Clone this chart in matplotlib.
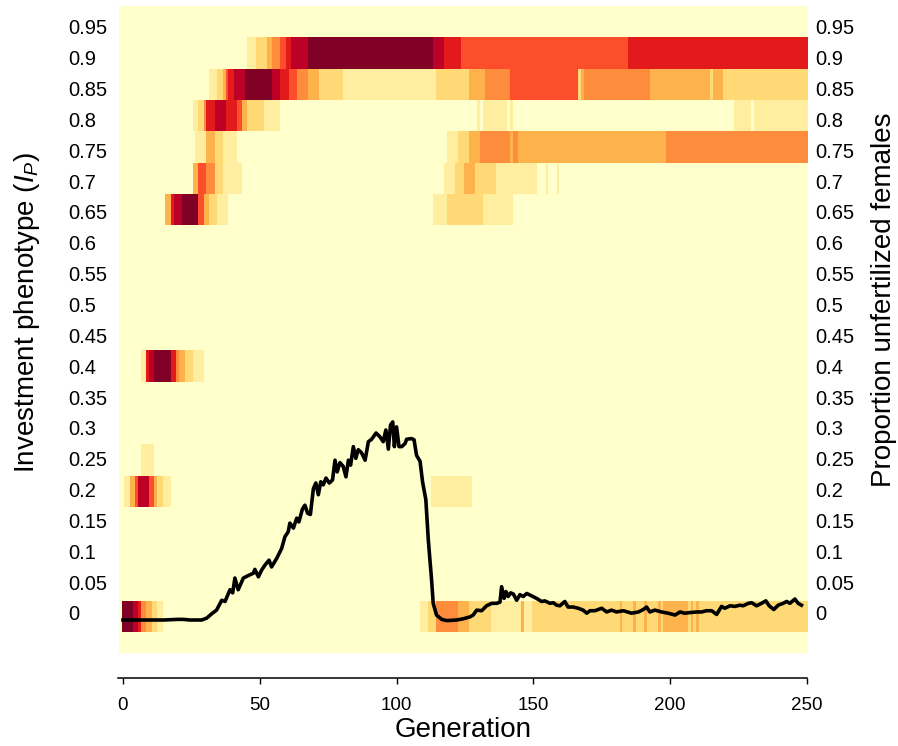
import numpy as np
import matplotlib.pyplot as plt
from matplotlib.colors import ListedColormap, BoundaryNorm
from matplotlib.transforms import ScaledTranslation

plt.rcParams['font.family'] = ['Liberation Sans', 'DejaVu Sans']
plt.rcParams['mathtext.fontset'] = 'custom'
plt.rcParams['mathtext.rm'] = 'Liberation Sans'
plt.rcParams['mathtext.it'] = 'Liberation Sans:italic'

# generations and phenotype classes
generations = np.arange(0, 251)
phenotypes = np.round(np.arange(0, 1.0, 0.05), 2)

# frequency class (0 = absent ... 8 = most common) as (first gen, last gen + 1, class)
row_000 = [(0, 4, 8), (4, 6, 7), (6, 7, 6), (7, 9, 4), (9, 11, 3), (11, 13, 2), (13, 15, 1),
           (109, 112, 1), (112, 115, 2), (115, 123, 4), (123, 127, 3), (127, 135, 2),
           (135, 146, 1), (146, 147, 3), (147, 150, 1), (150, 251, 2),
           (182, 183, 3), (187, 188, 3), (191, 192, 3), (196, 197, 3), (198, 207, 3),
           (208, 209, 3), (210, 211, 3)]
row_020 = [(1, 3, 1), (3, 5, 3), (5, 6, 5), (6, 10, 7), (10, 12, 5), (12, 13, 3), (13, 15, 2),
           (15, 18, 1), (113, 128, 1)]
row_025 = [(7, 12, 1)]
row_040 = [(7, 9, 1), (9, 10, 6), (10, 12, 7), (12, 18, 8), (18, 20, 6), (20, 21, 4), (21, 23, 3),
           (23, 26, 2), (26, 30, 1)]
row_065 = [(16, 18, 3), (18, 19, 6), (19, 22, 7), (22, 28, 8), (28, 30, 5), (30, 32, 3), (32, 35, 2),
           (35, 39, 1), (114, 119, 1), (119, 132, 2), (132, 143, 1)]
row_070 = [(26, 28, 3), (28, 31, 5), (31, 34, 4), (34, 37, 2), (37, 44, 1), (118, 122, 1),
           (122, 125, 2), (125, 129, 3), (129, 137, 2), (137, 152, 1), (155, 156, 1), (159, 160, 1)]
row_075 = [(27, 31, 1), (31, 34, 3), (34, 37, 2), (37, 42, 1), (119, 123, 1), (123, 127, 2),
           (127, 131, 3), (131, 142, 4), (142, 143, 3), (143, 145, 4), (145, 199, 3), (199, 251, 4)]
row_080 = [(26, 28, 1), (28, 30, 2), (30, 31, 4), (31, 34, 6), (34, 38, 7), (38, 42, 6), (42, 44, 5),
           (44, 46, 3), (46, 52, 2), (52, 58, 1), (130, 131, 1), (132, 141, 1), (142, 143, 1),
           (224, 230, 1), (231, 251, 1)]
row_085 = [(32, 35, 1), (35, 37, 2), (37, 38, 3), (38, 39, 5), (39, 41, 6), (41, 45, 7), (45, 55, 8),
           (55, 58, 7), (58, 61, 6), (61, 64, 5), (64, 68, 4), (68, 72, 3), (72, 81, 2), (81, 115, 1),
           (115, 127, 2), (127, 133, 3), (133, 142, 4), (142, 167, 5), (167, 168, 2), (168, 169, 3),
           (169, 193, 4), (193, 215, 3), (215, 216, 2), (216, 220, 3), (220, 251, 2)]
row_090 = [(46, 49, 1), (49, 53, 2), (53, 55, 3), (55, 58, 4), (58, 60, 5), (60, 62, 6), (62, 68, 7),
           (68, 114, 8), (114, 118, 7), (118, 124, 6), (124, 185, 5), (185, 251, 6)]

rows = {0.0: row_000, 0.2: row_020, 0.25: row_025, 0.4: row_040, 0.65: row_065,
        0.7: row_070, 0.75: row_075, 0.8: row_080, 0.85: row_085, 0.9: row_090}

# proportion of unfertilized females
line_gen = [0, 5, 10, 15, 20, 22, 24.5, 28.8, 30.6, 32.4, 34.2, 36.1, 37.3, 39.1, 40.1, 40.9, 42.1,
            44, 45.8, 47.7, 48.2, 49.5, 50.7, 51.9, 53.4, 54.3, 56.2, 58, 59.2, 60.4, 61, 62.3, 63.5,
            64.3, 65.6, 66.5, 67.5, 68.5, 69.6, 70.5, 71.4, 72.3, 73.2, 74.2, 75.4, 76.6, 77.5, 78.3,
            79.3, 80.5, 81.5, 82.4, 83.2, 84.2, 85.1, 86, 87.2, 88.5, 89.7, 90.9, 92.5, 93.9, 95.1,
            96.1, 97, 97.8, 98.6, 99.2, 100, 100.9, 101.9, 103.1, 103.7, 105.5, 106.4, 107.3, 108.6,
            109.5, 110.7, 111.6, 112.8, 113.4, 114.6, 116.5, 118.3, 122, 124.4, 126.8, 128, 129.3,
            131.1, 132.9, 134.8, 136.6, 137.8, 138.4, 139.3, 140, 140.8, 141.7, 142.7, 143.9, 145.1,
            146.3, 147.6, 149.4, 151.2, 153, 154.2, 156.1, 157.3, 158.5, 159.7, 161.5, 162.7, 164.6,
            166.4, 168.2, 169.5, 170.7, 172.5, 175, 176.8, 178.6, 180.4, 182.9, 185.9, 188.4, 190.2,
            191.4, 192.6, 194.4, 196.9, 199.3, 201.8, 203.6, 205.4, 207.2, 209.7, 211.5, 213.3, 215.2,
            217, 218.8, 220, 221.9, 223.7, 225.5, 226.7, 228.6, 229.8, 231.6, 233.4, 235, 236.2,
            237.9, 239.5, 241.3, 242.6, 243.8, 245.6, 246.8, 248]
line_prop = [0, 0, 0, 0, 0.001, 0.001, 0, 0, 0.003, 0.01, 0.016, 0.032, 0.03, 0.049, 0.044, 0.068,
             0.049, 0.068, 0.072, 0.076, 0.082, 0.07, 0.081, 0.089, 0.097, 0.086, 0.1, 0.116, 0.135,
             0.143, 0.157, 0.149, 0.165, 0.159, 0.18, 0.186, 0.173, 0.171, 0.213, 0.222, 0.203, 0.224,
             0.219, 0.23, 0.222, 0.227, 0.259, 0.24, 0.255, 0.249, 0.232, 0.259, 0.251, 0.281, 0.262,
             0.276, 0.271, 0.259, 0.289, 0.293, 0.303, 0.297, 0.289, 0.308, 0.277, 0.316, 0.321, 0.281,
             0.313, 0.281, 0.281, 0.286, 0.293, 0.294, 0.292, 0.267, 0.257, 0.224, 0.195, 0.13, 0.065,
             0.027, 0.008, 0.001, -0.001, 0, 0.002, 0.005, 0.008, 0.016, 0.015, 0.023, 0.027, 0.027,
             0.029, 0.054, 0.035, 0.046, 0.038, 0.044, 0.042, 0.032, 0.041, 0.038, 0.043, 0.039, 0.035,
             0.03, 0.031, 0.027, 0.028, 0.024, 0.023, 0.03, 0.021, 0.021, 0.019, 0.016, 0.011, 0.015,
             0.015, 0.019, 0.013, 0.016, 0.013, 0.015, 0.011, 0.013, 0.017, 0.021, 0.013, 0.016, 0.013,
             0.011, 0.008, 0.013, 0.011, 0.012, 0.013, 0.013, 0.015, 0.015, 0.009, 0.022, 0.019, 0.023,
             0.022, 0.024, 0.023, 0.027, 0.028, 0.023, 0.027, 0.031, 0.023, 0.017, 0.024, 0.027, 0.03,
             0.027, 0.034, 0.027, 0.024]

x_ticks = [0, 50, 100, 150, 200, 250]
y_ticks = np.round(np.arange(0, 1.0, 0.05), 2)
y_ticklabels = ['0' if v == 0 else f'{v:g}' for v in y_ticks]

colors = ['#ffffcc', '#ffeda0', '#fed976', '#feb24c', '#fd8d3c',
          '#fc4e2a', '#e31a1c', '#bd0026', '#800026']

grid = np.zeros((len(phenotypes), len(generations)))
for ph, segs in rows.items():
    i = int(round(ph / 0.05))
    for a, b, lev in segs:
        grid[i, a:b] = lev

fig = plt.figure(figsize=(8.98, 7.46), dpi=100)
ax = fig.add_axes([119 / 898, 93 / 746, 689 / 898, 647 / 746])
ax.set_facecolor(colors[0])

x_edges = np.append(generations - 0.5, generations[-1] + 0.5)
y_edges = np.append(phenotypes - 0.025, phenotypes[-1] + 0.025)
cmap = ListedColormap(colors)
norm = BoundaryNorm(np.arange(-0.5, 9.5, 1), cmap.N)
ax.pcolormesh(x_edges, y_edges, grid, cmap=cmap, norm=norm, shading='flat')

ax.set_xlim(-1.46, 250.4)
ax.set_ylim(-0.0585, 0.975)
for s in ['left', 'right', 'top']:
    ax.spines[s].set_visible(False)
ax.spines['bottom'].set_position(('outward', 18))
ax.spines['bottom'].set_bounds(-1.8, 250)
ax.spines['bottom'].set_linewidth(1.1)
ax.set_xticks(x_ticks)
ax.tick_params(axis='x', length=4.5, width=1, pad=9, labelsize=13.5)
ax.set_yticks([])
ax.set_xlabel('Generation', fontsize=20, labelpad=2)

# line on its own y scale
ax2 = ax.twinx()
ax2.plot(line_gen, line_prop, color='black', lw=2.6, solid_joinstyle='round')
ax2.set_ylim(-0.0535, 0.9951)
for s in ax2.spines.values():
    s.set_visible(False)
ax2.set_yticks(y_ticks)
ax2.set_yticklabels(y_ticklabels)
ax2.tick_params(axis='y', length=0, pad=5, labelsize=14.5, labelleft=True, labelright=True)

up = ScaledTranslation(0, 7 / 100, fig.dpi_scale_trans)
left_shift = ScaledTranslation(-44 / 100, 7 / 100, fig.dpi_scale_trans)
for t in ax2.yaxis.get_major_ticks():
    t.label1.set_horizontalalignment('left')
    t.label1.set_transform(t.label1.get_transform() + left_shift)
    t.label2.set_transform(t.label2.get_transform() + up)

fig.text(27 / 898, 1 - 312 / 746, r'Investment phenotype ($I_P$)', rotation=90,
         ha='center', va='center', fontsize=20)
fig.text(884 / 898, 1 - 300 / 746, 'Proportion unfertilized females', rotation=90,
         ha='center', va='center', fontsize=20)

fig.savefig('out.png', dpi=100)
